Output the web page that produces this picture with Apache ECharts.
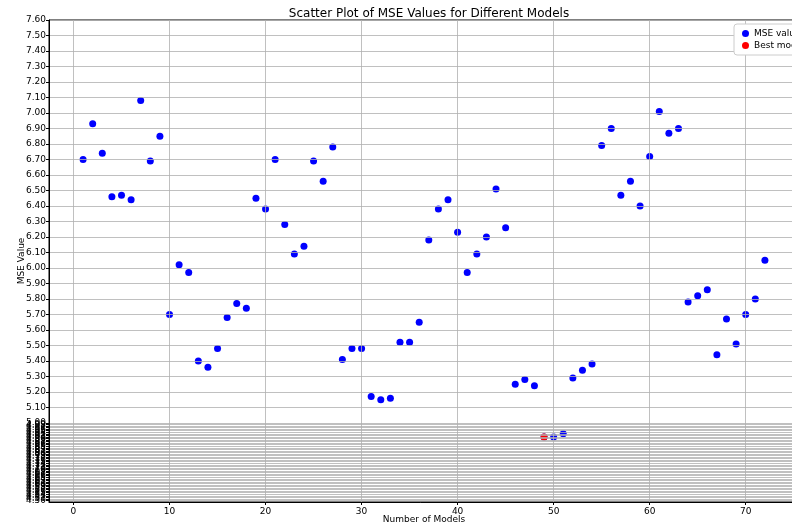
<!DOCTYPE html>
<html>
<head>
<meta charset="utf-8">
<script src="https://cdn.jsdelivr.net/npm/echarts@6/dist/echarts.min.js"></script>
<style>
  html, body { margin: 0; padding: 0; background: #fff; }
  #chart { width: 792px; height: 526px; }
</style>
</head>
<body>
<div id="chart"></div>
<script>
// Model index (1..72) and the MSE measured for each model
const modelIds = [
  1, 2, 3, 4, 5, 6, 7, 8, 9, 10, 11, 12, 13, 14, 15, 16, 17, 18,
  19, 20, 21, 22, 23, 24, 25, 26, 27, 28, 29, 30, 31, 32, 33, 34, 35, 36,
  37, 38, 39, 40, 41, 42, 43, 44, 45, 46, 47, 48, 49, 50, 51, 52, 53, 54,
  55, 56, 57, 58, 59, 60, 61, 62, 63, 64, 65, 66, 67, 68, 69, 70, 71, 72
];
const mseValues = [
  6.70, 6.93, 6.74, 6.46, 6.47, 6.44, 7.08, 6.69, 6.85, 5.70, 6.02, 5.97, 5.40, 5.36, 5.48, 5.68, 5.77, 5.74,
  6.45, 6.38, 6.70, 6.28, 6.09, 6.14, 6.69, 6.56, 6.78, 5.41, 5.48, 5.48, 5.17, 5.15, 5.16, 5.52, 5.52, 5.65,
  6.18, 6.38, 6.44, 6.23, 5.97, 6.09, 6.20, 6.51, 6.26, 5.25, 5.28, 5.24, 4.91, 4.91, 4.93, 5.29, 5.34, 5.38,
  6.79, 6.90, 6.47, 6.56, 6.40, 6.72, 7.01, 6.87, 6.90, 5.78, 5.82, 5.86, 5.44, 5.67, 5.51, 5.70, 5.80, 6.05
];

// Best model (lowest MSE)
const bestModel = [49];
const bestMse = [4.91];

// Axis ticks
const xTicks = [0, 10, 20, 30, 40, 50, 60, 70];
const yTicksFine = [
  4.49, 4.50, 4.51, 4.52, 4.53, 4.54, 4.55, 4.56, 4.57, 4.58, 4.59,
  4.60, 4.61, 4.62, 4.63, 4.64, 4.65, 4.66, 4.67, 4.68, 4.69,
  4.70, 4.71, 4.72, 4.73, 4.74, 4.75, 4.76, 4.77, 4.78, 4.79,
  4.80, 4.81, 4.82, 4.83, 4.84, 4.85, 4.86, 4.87, 4.88, 4.89,
  4.90, 4.91, 4.92, 4.93, 4.94, 4.95, 4.96, 4.97, 4.98, 4.99, 5.00
];
const yTicksCoarse = [
  5.10, 5.20, 5.30, 5.40, 5.50, 5.60, 5.70, 5.80, 5.90, 6.00,
  6.10, 6.20, 6.30, 6.40, 6.50, 6.60, 6.70, 6.80, 6.90, 7.00,
  7.10, 7.20, 7.30, 7.40, 7.50, 7.60
];
const yTicks = yTicksFine.concat(yTicksCoarse);

const FONT = 'DejaVu Sans';
const chart = echarts.init(document.getElementById('chart'), null, { renderer: 'canvas' });

chart.setOption({
  animation: false,
  backgroundColor: '#ffffff',
  title: {
    text: 'Scatter Plot of MSE Values for Different Models',
    left: 424, top: 3, textAlign: 'center',
    textStyle: { fontFamily: FONT, fontSize: 12, fontWeight: 'normal', color: '#000' }
  },
  legend: {
    left: 734, top: 24, orient: 'vertical',
    itemWidth: 7, itemHeight: 7, itemGap: 3,
    padding: [5, 8, 5, 8],
    backgroundColor: '#fff', borderColor: '#cccccc', borderWidth: 1, borderRadius: 3,
    textStyle: { fontFamily: FONT, fontSize: 9, color: '#000' },
    data: [
      { name: 'MSE values', icon: 'circle' },
      { name: 'Best model', icon: 'circle' }
    ]
  },
  grid: {
    left: 49, top: 20, width: 750, height: 482,
    outerBoundsMode: 'none', containLabel: false,
    show: true, borderColor: '#000', borderWidth: 1, backgroundColor: 'transparent'
  },
  xAxis: {
    type: 'value', min: -2.55, max: 75.55, z: 3,
    name: 'Number of Models', nameLocation: 'middle', nameGap: 13, nameMoveOverlap: false,
    nameTextStyle: { fontFamily: FONT, fontSize: 9, color: '#000' },
    axisLine: { show: true, onZero: false, lineStyle: { color: '#000', width: 1 } },
    axisTick: { show: true, length: 3, customValues: xTicks, lineStyle: { color: '#000' } },
    axisLabel: { customValues: xTicks, fontFamily: FONT, fontSize: 9, color: '#000', margin: 5 },
    splitLine: { show: true, lineStyle: { color: '#b0b0b0', width: 0.8 } }
  },
  yAxis: {
    type: 'value', min: 4.49, max: 7.60, z: 3,
    name: 'MSE Value', nameLocation: 'middle', nameGap: 23, nameRotate: 90, nameMoveOverlap: false,
    nameTextStyle: { fontFamily: FONT, fontSize: 9, color: '#000' },
    axisLine: { show: true, onZero: false, lineStyle: { color: '#000', width: 1 } },
    axisTick: { show: true, length: 3, customValues: yTicks, lineStyle: { color: '#000' } },
    axisLabel: {
      customValues: yTicks, fontFamily: FONT, fontSize: 9, color: '#000', margin: 3,
      formatter: v => v.toFixed(2)
    },
    splitLine: { show: true, lineStyle: { color: '#b0b0b0', width: 0.8 } }
  },
  series: [
    {
      name: 'MSE values', type: 'scatter', z: 2,
      symbol: 'circle', symbolSize: 7,
      itemStyle: { color: '#0000ff', opacity: 1 },
      data: modelIds.map((m, i) => [m, mseValues[i]])
    },
    {
      name: 'Best model', type: 'scatter', z: 2,
      symbol: 'circle', symbolSize: 7,
      itemStyle: { color: '#ff0000', opacity: 1 },
      data: bestModel.map((m, i) => [m, bestMse[i]])
    }
  ]
});
</script>
</body>
</html>
